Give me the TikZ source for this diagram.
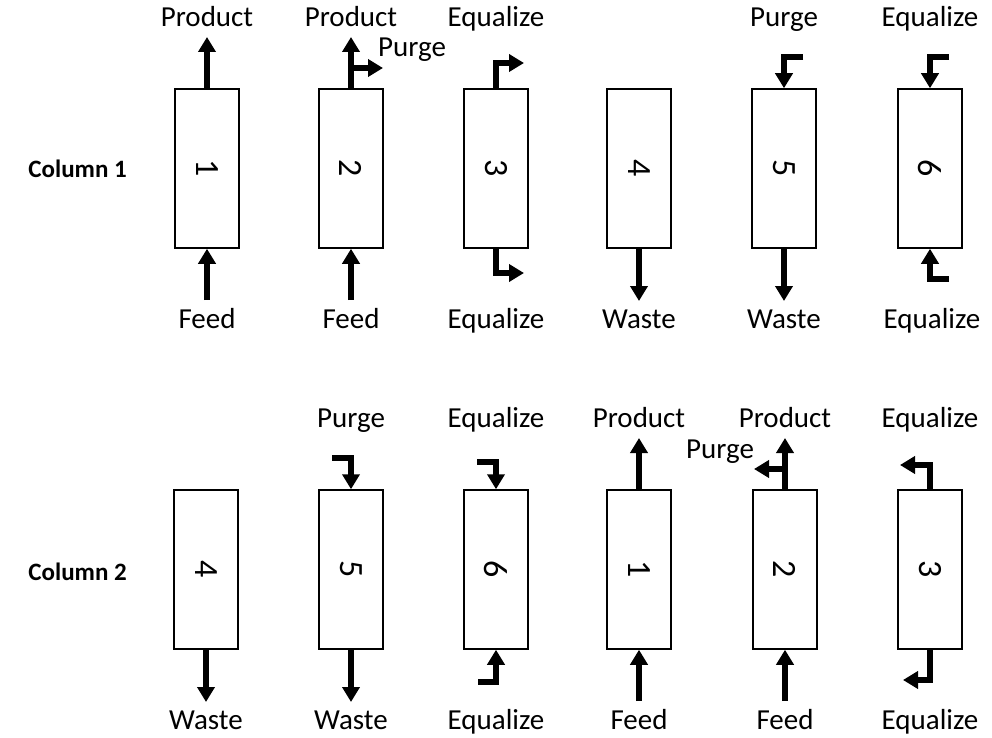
\documentclass[tikz,border=0pt]{standalone}
\usepackage{fontspec}
\setmainfont{Carlito}
\usetikzlibrary{arrows.meta}
\begin{document}
\begin{tikzpicture}[x=1bp,y=-1bp,
  col/.style={draw,line width=1.5bp,minimum width=64bp,minimum height=159bp,inner sep=0pt,fill=white},
  num/.style={font=\fontsize{34bp}{38bp}\selectfont,rotate=-90},
  lbl/.style={font=\fontsize{29bp}{32bp}\selectfont,anchor=base,inner sep=0pt},
  rowlbl/.style={font=\fontsize{25bp}{30bp}\selectfont\bfseries,inner sep=0pt,anchor=base east},
  flow/.style={line width=5.5bp,-{Triangle[width=17bp,length=15bp]},line join=miter}]
\useasboundingbox (0,0) rectangle (992,738);
% ---------- Column 1 ----------
\node[rowlbl] (c1) at (127,177) {Column 1};
\node[col] (a1) at (207,168.5) {};
\node[col] (a2) at (351,168.5) {};
\node[col] (a3) at (496,168.5) {};
\node[col] (a4) at (639,168.5) {};
\node[col] (a5) at (784,168.5) {};
\node[col] (a6) at (930,168.5) {};
\node[num] (n1) at (a1) {1};
\node[num] (n2) at (a2) {2};
\node[num] (n3) at (a3) {3};
\node[num] (n4) at (a4) {4};
\node[num] (n5) at (a5) {5};
\node[num] (n6) at (a6) {6};
% labels top
\node[lbl] (la1) at (207,26.5) {Product};
\node[lbl] (la2) at (351,26.5) {Product};
\node[lbl] (la2p) at (412,57) {Purge};
\node[lbl] (la3) at (496,26.5) {Equalize};
\node[lbl] (la5) at (784,26.5) {Purge};
\node[lbl] (la6) at (930,26.5) {Equalize};
% labels bottom
\node[lbl] (lb1) at (207,328) {Feed};
\node[lbl] (lb2) at (351,328) {Feed};
\node[lbl] (lb3) at (496,328) {Equalize};
\node[lbl] (lb4) at (639,328) {Waste};
\node[lbl] (lb5) at (784,328) {Waste};
\node[lbl] (lb6) at (932,328) {Equalize};
% coordinates
\coordinate (ta1) at (207,37);
\coordinate (fa1) at (207,300);
\coordinate (ta2) at (351,37);
\coordinate (ja2) at (351,68);
\coordinate (pa2) at (383,68);
\coordinate (fa2) at (351,300);
\coordinate (ea3t) at (524,63);
\coordinate (ea3b) at (524,273);
\coordinate (wa4) at (639,301);
\coordinate (sa5) at (803,57);
\coordinate (wa5) at (784,301);
\coordinate (sa6t) at (949,57);
\coordinate (sa6b) at (949,279);
% arrows
\draw[flow] (a1.north) -- (ta1);
\draw[flow] (fa1) -- (a1.south);
\draw[flow] (a2.north) -- (ta2);
\draw[flow] (ja2) -- (pa2);
\draw[flow] (fa2) -- (a2.south);
\draw[flow] (a3.north) |- (ea3t);
\draw[flow] (a3.south) |- (ea3b);
\draw[flow] (a4.south) -- (wa4);
\draw[flow] (sa5) -| (a5.north);
\draw[flow] (a5.south) -- (wa5);
\draw[flow] (sa6t) -| (a6.north);
\draw[flow] (sa6b) -| (a6.south);
% ---------- Column 2 ----------
\node[rowlbl] (c2) at (127,580) {Column 2};
\node[col] (b1) at (206,569.5) {};
\node[col] (b2) at (351,569.5) {};
\node[col] (b3) at (496,569.5) {};
\node[col] (b4) at (639,569.5) {};
\node[col] (b5) at (785,569.5) {};
\node[col] (b6) at (930,569.5) {};
\node[num] (m1) at (b1) {4};
\node[num] (m2) at (b2) {5};
\node[num] (m3) at (b3) {6};
\node[num] (m4) at (b4) {1};
\node[num] (m5) at (b5) {2};
\node[num] (m6) at (b6) {3};
% labels top
\node[lbl] (lc2) at (351,427) {Purge};
\node[lbl] (lc3) at (496,427) {Equalize};
\node[lbl] (lc4) at (639,427) {Product};
\node[lbl] (lc5) at (785,427) {Product};
\node[lbl] (lc5p) at (720,458) {Purge};
\node[lbl] (lc6) at (930,427) {Equalize};
% labels bottom
\node[lbl] (ld1) at (206,729) {Waste};
\node[lbl] (ld2) at (351,729) {Waste};
\node[lbl] (ld3) at (496,729) {Equalize};
\node[lbl] (ld4) at (639,729) {Feed};
\node[lbl] (ld5) at (785,729) {Feed};
\node[lbl] (ld6) at (930,729) {Equalize};
% coordinates
\coordinate (wb1) at (206,702);
\coordinate (sb2) at (332,458);
\coordinate (wb2) at (351,702);
\coordinate (sb3t) at (477,462);
\coordinate (sb3b) at (478,682);
\coordinate (tb4) at (639,438);
\coordinate (fb4) at (639,701);
\coordinate (tb5) at (785,438);
\coordinate (jb5) at (785,469);
\coordinate (pb5) at (754,469);
\coordinate (fb5) at (785,701);
\coordinate (eb6t) at (900,465);
\coordinate (eb6b) at (903,680);
% arrows
\draw[flow] (b1.south) -- (wb1);
\draw[flow] (sb2) -| (b2.north);
\draw[flow] (b2.south) -- (wb2);
\draw[flow] (sb3t) -| (b3.north);
\draw[flow] (sb3b) -| (b3.south);
\draw[flow] (b4.north) -- (tb4);
\draw[flow] (fb4) -- (b4.south);
\draw[flow] (b5.north) -- (tb5);
\draw[flow] (jb5) -- (pb5);
\draw[flow] (fb5) -- (b5.south);
\draw[flow] (b6.north) |- (eb6t);
\draw[flow] (b6.south) |- (eb6b);
\end{tikzpicture}
\end{document}
